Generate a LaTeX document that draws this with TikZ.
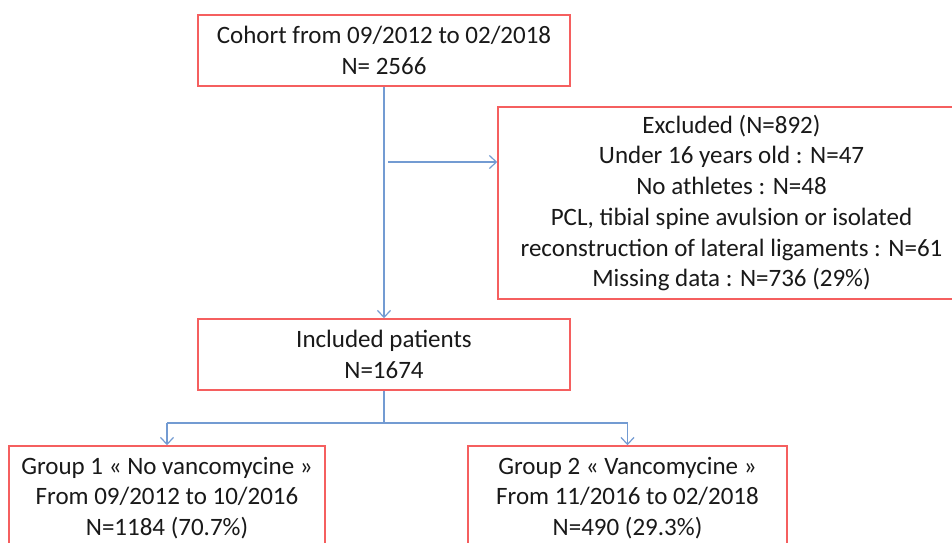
\documentclass[tikz,border=0pt]{standalone}
\usepackage{fontspec}
\setmainfont{Carlito}
\usetikzlibrary{arrows.meta}
\definecolor{boxred}{RGB}{245,95,95}
\definecolor{lineblue}{RGB}{115,155,210}
\begin{document}
\begin{tikzpicture}[x=1pt,y=-1pt,
  box/.style={draw=boxred,line width=1.5pt,fill=white,align=center,inner sep=0pt,
    font=\fontsize{25}{30.7}\selectfont,text=black!90},
  conn/.style={draw=lineblue,line width=1.4pt},
  arr/.style={conn,-{Straight Barb[length=7pt,width=13pt,line width=1.2pt]}}]
\useasboundingbox (0,0) rectangle (952,542);
\clip (0,0) rectangle (952,542);
\fill[white] (0,0) rectangle (952,542);
\node[box,minimum width=372pt,minimum height=71pt] (top) at (384,50.5)
  {Cohort from 09/2012 to 02/2018\\N= 2566};
\node[box,minimum width=467pt,minimum height=192pt] (excl) at (731.5,203)
  {Excluded (N=892)\\Under 16 years old : N=47\\No athletes : N=48\\PCL, tibial spine avulsion or isolated\\reconstruction of lateral ligaments : N=61\\Missing data : N=736 (29\%)};
\node[box,minimum width=372pt,minimum height=71pt] (incl) at (384,354.5)
  {Included patients\\N=1674};
\node[box,minimum width=316pt,minimum height=104pt] (g1) at (167,498)
  {Group 1 « No vancomycine »\\From 09/2012 to 10/2016\\N=1184 (70.7\%)};
\node[box,minimum width=319pt,minimum height=104pt] (g2) at (627.5,498)
  {Group 2 « Vancomycine »\\From 11/2016 to 02/2018\\N=490 (29.3\%)};
\coordinate (hs) at (388,162);
\coordinate (br) at (384,423);
\draw[arr] (top.south) -- (incl.north);
\draw[arr] (hs) -- (hs -| excl.west);
\draw[conn] (incl.south) -- (br);
\draw[conn] (g1.north |- br) -- (g2.north |- br);
\draw[arr] (g1.north |- br) -- (g1.north);
\draw[arr] (g2.north |- br) -- (g2.north);
\end{tikzpicture}
\end{document}
